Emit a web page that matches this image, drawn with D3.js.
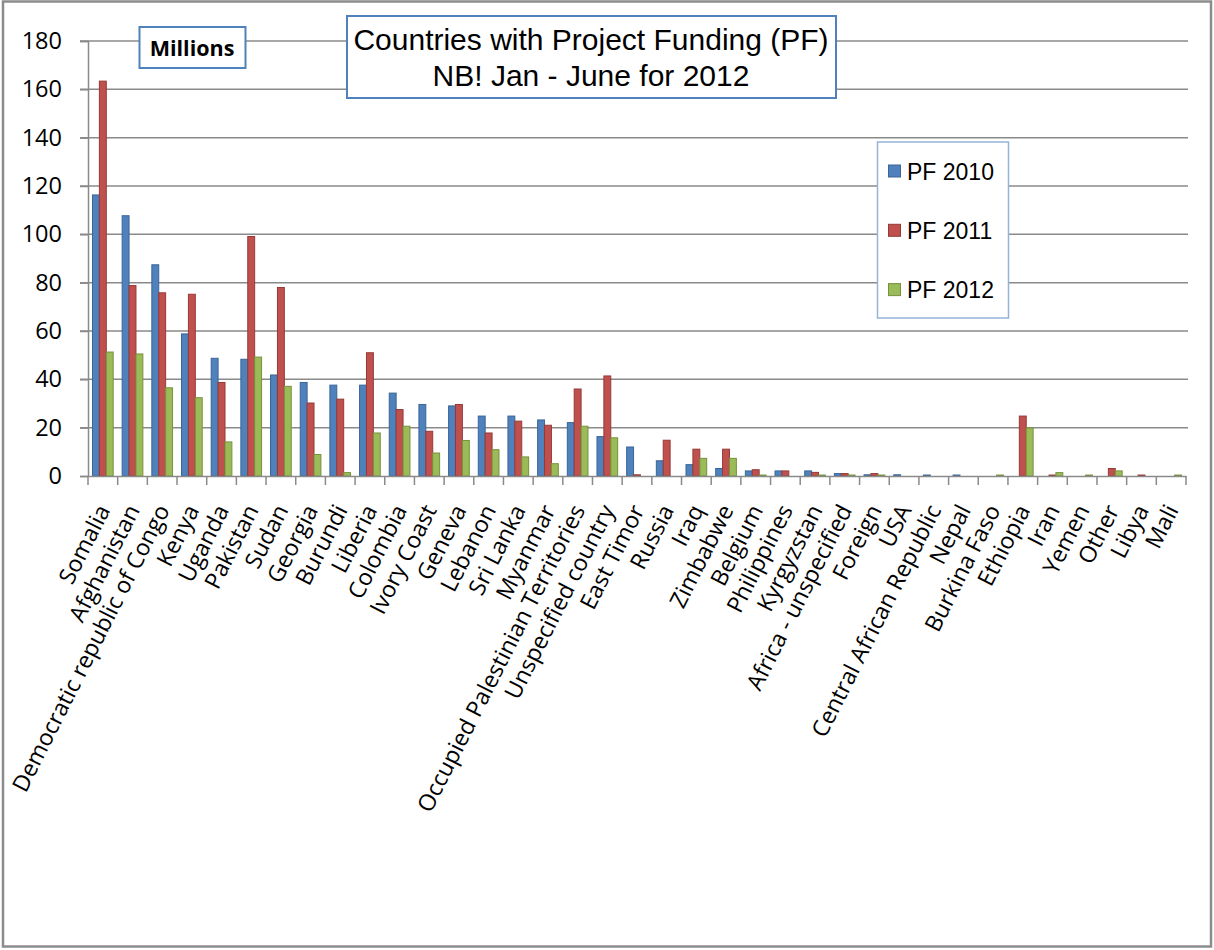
<!DOCTYPE html>
<html>
<head>
<meta charset="utf-8">
<script src="https://cdn.jsdelivr.net/npm/d3@7"></script>
<style>
  html, body { margin: 0; padding: 0; background: #fff; }
  svg { display: block; }
</style>
</head>
<body>
<svg id="chart" width="1214" height="950"></svg>
<script>
const categories = ["Somalia", "Afghanistan", "Democratic republic of Congo", "Kenya", "Uganda", "Pakistan", "Sudan", "Georgia", "Burundi", "Liberia", "Colombia", "Ivory Coast", "Geneva", "Lebanon", "Sri Lanka", "Myanmar", "Occupied Palestinian Territories", "Unspecified country", "East Timor", "Russia", "Iraq", "Zimbabwe", "Belgium", "Philippines", "Kyrgyzstan", "Africa - unspecified", "Foreign", "USA", "Central African Republic", "Nepal", "Burkina Faso", "Ethiopia", "Iran", "Yemen", "Other", "Libya", "Mali"];
const seriesNames = ["PF 2010", "PF 2011", "PF 2012"];
const pf2010 = [116.3, 107.7, 87.4, 58.8, 48.7, 48.3, 41.8, 38.7, 37.6, 37.6, 34.3, 29.6, 29.0, 24.8, 24.8, 23.2, 22.1, 16.3, 12.0, 6.3, 4.7, 3.1, 2.1, 2.1, 2.1, 1.0, 0.5, 0.5, 0.4, 0.4, 0, 0, 0, 0, 0, 0, 0];
const pf2011 = [163.4, 78.8, 75.8, 75.2, 38.7, 99.1, 78.0, 30.2, 31.8, 51.0, 27.5, 18.5, 29.6, 17.8, 22.7, 21.0, 36.0, 41.4, 0.5, 14.8, 11.1, 11.1, 2.6, 2.1, 1.5, 1.0, 1.0, 0, 0, 0, 0, 24.8, 0.4, 0, 3.1, 0.4, 0];
const pf2012 = [51.3, 50.5, 36.5, 32.4, 14.1, 49.2, 37.1, 8.9, 1.4, 17.8, 20.6, 9.5, 14.7, 10.9, 7.9, 5.1, 20.6, 15.8, 0, 0, 7.3, 7.3, 0.4, 0, 0.4, 0.4, 0.4, 0, 0, 0, 0.4, 19.9, 1.4, 0.4, 2.1, 0, 0.4];
const yTicks = [0, 20, 40, 60, 80, 100, 120, 140, 160, 180];
const titleLines = ["Countries with Project Funding (PF)", "NB! Jan - June for 2012"];
const unitLabel = "Millions";

(function () {
const fills = ["#4F81BD", "#C0504D", "#9BBB59"];
const strokes = ["#3A6596", "#953A37", "#76923C"];
const series = [pf2010, pf2011, pf2012];

const svg = d3.select("#chart");
const pLeft = 88, pRight = 1186, pTop = 41, pBottom = 476;

// outer frame
svg.append("rect").attr("x", 3).attr("y", 1.5).attr("width", 1208).attr("height", 945)
  .attr("fill", "#fff").attr("stroke", "#8c8c8c").attr("stroke-width", 2.5);

const x0 = d3.scaleBand().domain(categories).range([pLeft, pRight]).paddingInner(0).paddingOuter(0);
const bw = x0.bandwidth();
const barW = 6.9;
const x1 = d3.scaleBand().domain(d3.range(3)).range([(bw - 3 * barW) / 2, (bw + 3 * barW) / 2]);
const y = d3.scaleLinear().domain([0, 180]).range([pBottom, pTop]);

// gridlines
svg.append("g").selectAll("line").data(yTicks.filter(t => t > 0)).join("line")
  .attr("x1", pLeft - 8).attr("x2", pRight + 2)
  .attr("y1", d => y(d)).attr("y2", d => y(d))
  .attr("stroke", "#8a8a8a").attr("stroke-width", 1.5);

// y axis
const yAxis = d3.axisLeft(y).tickValues(yTicks).tickSize(8).tickPadding(18).tickFormat(d3.format("d"));
const gy = svg.append("g").attr("transform", `translate(${pLeft},0)`).call(yAxis);
gy.select(".domain").attr("stroke", "#8a8a8a").attr("stroke-width", 1.5);
gy.selectAll(".tick line").attr("stroke", "#8a8a8a").attr("stroke-width", 1.5);
gy.selectAll(".tick text").attr("font-family", "'Open Sans', sans-serif").attr("font-size", 23.5).attr("fill", "#000");

// bars
const groups = svg.append("g").selectAll("g").data(categories).join("g")
  .attr("transform", d => `translate(${x0(d)},0)`);
groups.selectAll("rect").data((d, i) => series.map((s, k) => ({ k, v: s[i] })).filter(e => e.v > 0)).join("rect")
  .attr("x", d => x1(d.k)).attr("width", x1.bandwidth())
  .attr("y", d => y(d.v)).attr("height", d => y(0) - y(d.v))
  .attr("fill", d => fills[d.k]).attr("stroke", d => strokes[d.k]).attr("stroke-width", 1);

// x axis
const xAxis = d3.axisBottom(x0).tickSize(0).tickFormat("");
const gx = svg.append("g").attr("transform", `translate(0,${pBottom})`).call(xAxis);
gx.select(".domain").attr("stroke", "#8a8a8a").attr("stroke-width", 1.5);
gx.selectAll(".tick").remove();
const boundaries = d3.range(categories.length + 1).map(i => pLeft + i * bw);
gx.selectAll("line.bt").data(boundaries).join("line").attr("class", "bt")
  .attr("x1", d => d).attr("x2", d => d).attr("y1", 0).attr("y2", 9)
  .attr("stroke", "#8a8a8a").attr("stroke-width", 1.5);

// category labels
svg.append("g").selectAll("text").data(categories).join("text")
  .attr("transform", d => `translate(${x0(d) + bw / 2 + 8},${pBottom + 34}) rotate(-63)`)
  .attr("text-anchor", "end")
  .attr("font-family", "'Open Sans', sans-serif").attr("font-size", 23).attr("fill", "#000")
  .text(d => d);

// title box
const tb = svg.append("g");
tb.append("rect").attr("x", 347).attr("y", 16).attr("width", 489).attr("height", 82)
  .attr("fill", "#fff").attr("stroke", "#4F81BD").attr("stroke-width", 2);
tb.selectAll("text").data(titleLines).join("text")
  .attr("x", 591).attr("y", (d, i) => 50 + i * 36)
  .attr("text-anchor", "middle").attr("font-family", "'Liberation Sans', Arial, sans-serif")
  .attr("font-size", 30).attr("fill", "#000").text(d => d);

// Millions box
svg.append("rect").attr("x", 139.5).attr("y", 27).attr("width", 106).attr("height", 41)
  .attr("fill", "#fff").attr("stroke", "#4F81BD").attr("stroke-width", 2);
svg.append("text").attr("x", 192).attr("y", 56).attr("text-anchor", "middle")
  .attr("font-family", "'Open Sans', sans-serif").attr("font-weight", "bold").attr("font-size", 21.5)
  .attr("fill", "#000").text(unitLabel);

// legend
const lg = svg.append("g");
lg.append("rect").attr("x", 877.5).attr("y", 142).attr("width", 131).attr("height", 176)
  .attr("fill", "#fff").attr("stroke", "#95B3D7").attr("stroke-width", 1.5);
const items = lg.selectAll("g").data(seriesNames).join("g")
  .attr("transform", (d, i) => `translate(0,${171 + i * 59.3})`);
items.append("rect").attr("x", 888.5).attr("y", -6).attr("width", 12).attr("height", 12)
  .attr("fill", (d, i) => fills[i]).attr("stroke", (d, i) => strokes[i]).attr("stroke-width", 1);
items.append("text").attr("x", 907).attr("y", 8.5)
  .attr("font-family", "'Liberation Sans', Arial, sans-serif").attr("font-size", 23)
  .attr("fill", "#000").text(d => d);
})();
</script>
</body>
</html>
